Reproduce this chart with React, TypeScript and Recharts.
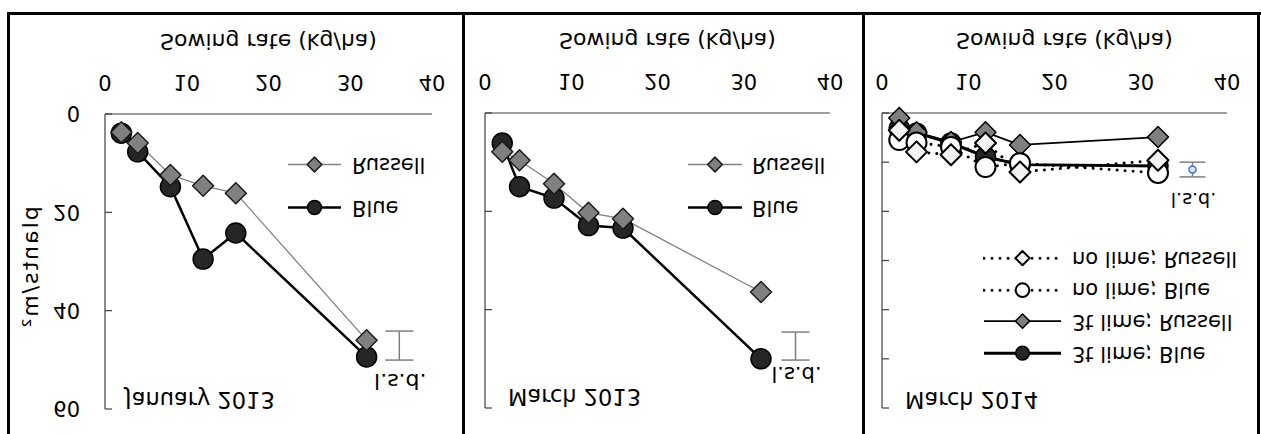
import React from "react";
import { ComposedChart, Line, Scatter, ErrorBar, XAxis, YAxis, Legend } from "recharts";

// sowing rate (kg/ha) shared by every series
const sowingRates = [2, 4, 8, 12, 16, 32];

// plants/m2
const jan2013Blue = [3.9, 7.7, 14.8, 29.5, 24.2, 49.4];
const jan2013Russell = [3.7, 5.9, 12.4, 14.6, 16.1, 46.0];
const mar2013Blue = [6.1, 15.0, 17.3, 22.9, 23.4, 50.0];
const mar2013Russell = [7.9, 9.6, 14.4, 20.3, 21.5, 36.4];
const mar2014LimeBlue = [3.1, 4.1, 6.1, 8.9, 10.5, 10.8];
const mar2014LimeRussell = [1.0, 3.9, 5.9, 3.9, 6.5, 4.9];
const mar2014NoLimeBlue = [5.5, 6.0, 6.9, 11.0, 10.2, 12.2];
const mar2014NoLimeRussell = [3.5, 7.9, 8.5, 6.1, 12.0, 9.6];

// least significant difference bars
const lsdJan2013 = [{ x: 36, y: 47.1, err: 2.95, label: "l.s.d." }];
const lsdMar2013 = [{ x: 36, y: 47.4, err: 2.85, label: "l.s.d." }];
const lsdMar2014 = [{ x: 36, y: 11.5, err: 1.5, label: "l.s.d." }];

const xTicks = [0, 10, 20, 30, 40];
const yTicks2013 = [0, 20, 40, 60];
const yTicks2014 = [0, 10, 20, 30, 40, 50, 60];

const FONT = '"DejaVu Sans", sans-serif';
const AXIS = "#404040";

type Marker = { shape: "diamond" | "circle"; r: number; fill: string; stroke: string; sw: number };
type Series = { name: string; values: number[]; stroke: string; width: number; dotted?: boolean; marker: Marker };

const blueDot: Marker = { shape: "circle", r: 10, fill: "#262626", stroke: "#000", sw: 1.5 };
const russellDot: Marker = { shape: "diamond", r: 10.5, fill: "#808080", stroke: "#1a1a1a", sw: 1.5 };

const series2013 = (blue: number[], russell: number[]): Series[] => [
  { name: "Blue", values: blue, stroke: "#000", width: 2.5, marker: blueDot },
  { name: "Russell", values: russell, stroke: "#808080", width: 1.3, marker: russellDot },
];

const series2014: Series[] = [
  { name: "3t lime; Blue", values: mar2014LimeBlue, stroke: "#000", width: 3, marker: blueDot },
  {
    name: "3t lime; Russell",
    values: mar2014LimeRussell,
    stroke: "#000",
    width: 1.8,
    marker: { shape: "diamond", r: 10.5, fill: "#7f7f7f", stroke: "#000", sw: 1.5 },
  },
  {
    name: "no lime; Blue",
    values: mar2014NoLimeBlue,
    stroke: "#000",
    width: 3,
    dotted: true,
    marker: { shape: "circle", r: 10, fill: "#fff", stroke: "#000", sw: 2 },
  },
  {
    name: "no lime; Russell",
    values: mar2014NoLimeRussell,
    stroke: "#000",
    width: 3,
    dotted: true,
    marker: { shape: "diamond", r: 10.5, fill: "#f2f2f2", stroke: "#000", sw: 2 },
  },
];

const toPoints = (values: number[]) => sowingRates.map((x, i) => ({ x, y: values[i] }));

function drawMarker(m: Marker, cx: number, cy: number, r: number, key?: string) {
  if (m.shape === "circle") {
    return <circle key={key} cx={cx} cy={cy} r={r} fill={m.fill} stroke={m.stroke} strokeWidth={m.sw} />;
  }
  return (
    <polygon
      key={key}
      points={`${cx},${cy - r} ${cx + r},${cy} ${cx},${cy + r} ${cx - r},${cy}`}
      fill={m.fill}
      stroke={m.stroke}
      strokeWidth={m.sw}
      strokeLinejoin="round"
    />
  );
}

const YTick = (props: any) => {
  const { x, y, payload, showLabel } = props;
  return (
    <g>
      <line x1={x} x2={x + 7} y1={y} y2={y} stroke={AXIS} strokeWidth={1.2} />
      {showLabel && (
        <text x={x - 25} y={y} dy="0.36em" textAnchor="end" fontSize={21} fill="#000">
          {payload.value}
        </text>
      )}
    </g>
  );
};

type LegendCfg = { left: number; top: number; rowH: number; lineLen: number; gap: number; scale: number };

const LegendRows = ({ payload, series, cfg }: { payload?: any[]; series: Series[]; cfg: LegendCfg }) => {
  const names = (payload || []).map((p) => p.value);
  return (
    <div>
      {series
        .filter((s) => names.includes(s.name))
        .map((s) => (
          <div key={s.name} style={{ display: "flex", alignItems: "center", height: cfg.rowH }}>
            <svg width={cfg.lineLen} height={cfg.rowH} style={{ display: "block" }}>
              <line
                x1={1}
                x2={cfg.lineLen - 1}
                y1={cfg.rowH / 2}
                y2={cfg.rowH / 2}
                stroke={s.stroke}
                strokeWidth={s.width}
                strokeDasharray={s.dotted ? "0.01 8" : undefined}
                strokeLinecap={s.dotted ? "round" : "butt"}
              />
              {drawMarker(s.marker, cfg.lineLen / 2, cfg.rowH / 2, s.marker.r * cfg.scale)}
            </svg>
            <span style={{ marginLeft: cfg.gap, fontSize: 21, lineHeight: 1, whiteSpace: "nowrap", color: "#000" }}>
              {s.name}
            </span>
          </div>
        ))}
    </div>
  );
};

const LsdShape = (props: any) => {
  const { cx, cy, payload, withDot, labelRise, fontSize } = props;
  return (
    <g>
      {withDot && <circle cx={cx} cy={cy} r={3.5} fill="#dae3f3" stroke="#4472c4" strokeWidth={1.5} />}
      <text x={cx + 1} y={cy - labelRise} textAnchor="middle" fontSize={fontSize} fill="#000">
        {payload.label}
      </text>
    </g>
  );
};

type PanelProps = {
  left: number;
  width: number;
  margin: { top: number; right: number; bottom: number; left: number };
  yAxisWidth: number;
  yTicks: number[];
  showYLabels: boolean;
  series: Series[];
  lsd: { x: number; y: number; err: number; label: string }[];
  lsdWidth: number;
  lsdDot: boolean;
  lsdRise: number;
  lsdFont: number;
  legend: LegendCfg;
  xLabelDx: number;
};

function Panel(p: PanelProps) {
  return (
    <div style={{ position: "absolute", left: p.left, top: 0 }}>
      <ComposedChart width={p.width} height={434} margin={p.margin}>
        <XAxis
          type="number"
          dataKey="x"
          domain={[0, 40]}
          ticks={xTicks}
          interval={0}
          height={80}
          tickLine={false}
          tickSize={0}
          tickMargin={24}
          axisLine={{ stroke: AXIS, strokeWidth: 1.2 }}
          tick={{ fontSize: 21, fill: "#000" }}
          label={{
            value: "Sowing rate (kg/ha)",
            position: "insideBottom",
            offset: 0,
            dx: p.xLabelDx,
            fontSize: 22,
            fill: "#000",
          }}
        />
        <YAxis
          type="number"
          domain={[0, 60]}
          ticks={p.yTicks}
          interval={0}
          width={p.yAxisWidth}
          tickLine={false}
          tickSize={0}
          tickMargin={0}
          axisLine={{ stroke: AXIS, strokeWidth: 1.2 }}
          tick={(t: any) => <YTick {...t} showLabel={p.showYLabels} />}
        />
        <Legend
          layout="vertical"
          align="center"
          verticalAlign="middle"
          wrapperStyle={{ left: p.legend.left, top: p.legend.top, width: "auto" }}
          content={(lp: any) => <LegendRows payload={lp.payload} series={p.series} cfg={p.legend} />}
        />
        {p.series.map((s) => (
          <Line
            key={s.name}
            name={s.name}
            data={toPoints(s.values)}
            dataKey="y"
            stroke={s.stroke}
            strokeWidth={s.width}
            strokeDasharray={s.dotted ? "0.01 8" : undefined}
            strokeLinecap={s.dotted ? "round" : "butt"}
            dot={(d: any) => drawMarker(s.marker, d.cx, d.cy, s.marker.r, `${s.name}-${d.index}`)}
            activeDot={false}
            isAnimationActive={false}
          />
        ))}
        <Scatter
          data={p.lsd}
          dataKey="y"
          legendType="none"
          isAnimationActive={false}
          shape={(sp: any) => <LsdShape {...sp} withDot={p.lsdDot} labelRise={p.lsdRise} fontSize={p.lsdFont} />}
        >
          <ErrorBar
            dataKey="err"
            direction="y"
            width={p.lsdWidth}
            stroke="#7f7f7f"
            strokeWidth={1.5}
            isAnimationActive={false}
          />
        </Scatter>
      </ComposedChart>
    </div>
  );
}

const rule = (left: number, top: number, width: number, height: number) => (
  <div style={{ position: "absolute", left, top, width, height, background: "#000" }} />
);

const textAt = (text: string, left: number, top: number) => (
  <div style={{ position: "absolute", left, top, fontSize: 22.5, lineHeight: "22px", whiteSpace: "nowrap", color: "#000" }}>
    {text}
  </div>
);

export default function App() {
  return (
    <div
      style={{
        position: "absolute",
        left: 0,
        top: 0,
        width: 1261,
        height: 434,
        overflow: "hidden",
        background: "#fff",
        fontFamily: FONT,
        transform: "scaleY(-1)",
      }}
    >
      <Panel
        left={0}
        width={460}
        margin={{ top: 25, right: 28, bottom: 34, left: 0 }}
        yAxisWidth={105}
        yTicks={yTicks2013}
        showYLabels
        series={series2013(jan2013Blue, jan2013Russell)}
        lsd={lsdJan2013}
        lsdWidth={14}
        lsdDot={false}
        lsdRise={28}
        lsdFont={22}
        legend={{ left: 287, top: 204.5, rowH: 43, lineLen: 55, gap: 10, scale: 0.7 }}
        xLabelDx={0}
      />
      <Panel
        left={463}
        width={400}
        margin={{ top: 26, right: 33, bottom: 33, left: 0 }}
        yAxisWidth={22}
        yTicks={yTicks2013}
        showYLabels={false}
        series={series2013(mar2013Blue, mar2013Russell)}
        lsd={lsdMar2013}
        lsdWidth={14}
        lsdDot={false}
        lsdRise={21}
        lsdFont={21}
        legend={{ left: 224, top: 204.5, rowH: 43, lineLen: 56, gap: 9, scale: 0.7 }}
        xLabelDx={10}
      />
      <Panel
        left={863}
        width={398}
        margin={{ top: 26, right: 34, bottom: 33, left: 0 }}
        yAxisWidth={19}
        yTicks={yTicks2014}
        showYLabels={false}
        series={series2014}
        lsd={lsdMar2014}
        lsdWidth={13}
        lsdDot
        lsdRise={23.5}
        lsdFont={19}
        legend={{ left: 120, top: 65, rowH: 31.7, lineLen: 79, gap: 10, scale: 0.68 }}
        xLabelDx={10}
      />

      {textAt("January 2013", 125, 23)}
      {textAt("March 2013", 508, 26)}
      {textAt("March 2014", 905, 23)}
      <div
        style={{
          position: "absolute",
          left: 30,
          top: 166,
          fontSize: 22,
          letterSpacing: 2,
          whiteSpace: "nowrap",
          color: "#000",
          transform: "translate(-50%, -50%) rotate(-90deg)",
        }}
      >
        plants/m²
      </div>

      {/* frame and panel dividers */}
      {rule(7, 419, 1254, 3)}
      {rule(7, 0, 3, 422)}
      {rule(462, 0, 3, 422)}
      {rule(862, 0, 3, 422)}
      {rule(1257, 0, 3, 422)}
    </div>
  );
}
